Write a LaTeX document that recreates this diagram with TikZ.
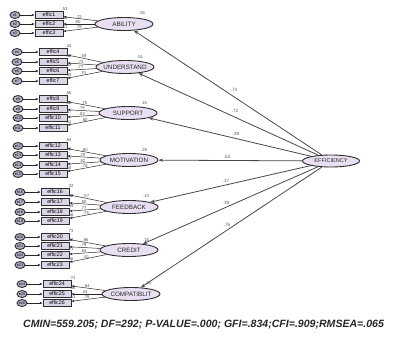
\documentclass[tikz,border=0pt]{standalone}
\usepackage{fontspec}
\setmainfont{Liberation Sans}
\usetikzlibrary{arrows.meta,shapes.geometric}
\definecolor{latfill}{HTML}{E8E0F2}
\definecolor{obsfill}{HTML}{DCD5E6}
\definecolor{errfill}{HTML}{B9B0C8}
\definecolor{edge}{HTML}{2E2E2E}
\begin{document}
\begin{tikzpicture}[x=1bp,y=-1bp,
  lat/.style={ellipse, draw=edge, line width=0.9pt, fill=latfill,
    minimum width=58bp, minimum height=13bp, inner sep=0pt},
  lattxt/.style={font=\fontsize{6.3}{6.3}\selectfont, inner sep=0pt, text=black!85},
  obs/.style={rectangle, draw=edge, line width=1pt, fill=obsfill,
    minimum width=28bp, minimum height=7bp, inner sep=0pt,
    font=\fontsize{5.3}{5.3}\selectfont},
  err/.style={ellipse, draw=edge, line width=0.9pt, fill=errfill,
    minimum width=10bp, minimum height=7bp, inner sep=0pt,
    font=\fontsize{3.8}{3.8}\selectfont},
  arr/.style={-{Stealth[length=3bp,width=2.4bp]}, draw=black!85, line width=0.5pt},
  sarr/.style={-{Stealth[length=4.5bp,width=3.2bp]}, draw=black!72, line width=0.8pt},
  lbl/.style={font=\fontsize{4.2}{4.2}\selectfont, text=black!70, inner sep=0.3bp},
  slbl/.style={font=\fontsize{4.6}{4.6}\selectfont, text=black!65, inner sep=0pt},
]
\useasboundingbox (0,0) rectangle (393,342);

% second-order factor
\node[lat, minimum width=57bp, minimum height=12bp] (eff) at (331,161) {};
\node[lattxt, font=\fontsize{5.6}{5.6}\selectfont] at (eff) {EFFICIENCY};

% first-order factors
\node[lat] (abil) at (124,24) {};  \node[lattxt] at (abil) {ABILITY};
\node[lat] (und)  at (125,67) {};  \node[lattxt] at (und)  {UNDERSTAND};
\node[lat] (sup)  at (128,113) {}; \node[lattxt] at (sup)  {SUPPORT};
\node[lat] (mot)  at (129,160) {}; \node[lattxt] at (mot)  {MOTIVATION};
\node[lat] (fb)   at (129,207) {}; \node[lattxt] at (fb)   {FEEDBACK};
\node[lat] (cred) at (129,250) {}; \node[lattxt] at (cred) {CREDIT};
\node[lat] (comp) at (131,294) {}; \node[lattxt] at (comp) {COMPATIBLIT};

% squared multiple correlations of the factors
\node[lbl] at (142,13)  {.55};
\node[lbl] at (140,57)  {.51};
\node[lbl] at (144,103) {.15};
\node[lbl] at (144,150) {.29};
\node[lbl] at (146,196) {.13};
\node[lbl] at (146,240) {.15};
\node[lbl] at (148,283) {.15};

% structural paths
\draw[sarr] (eff) -- (abil);
\draw[sarr] (eff) -- (und);
\draw[sarr] (eff) -- (sup);
\draw[sarr] (eff) -- (mot);
\draw[sarr] (eff) -- (fb);
\draw[sarr] (eff) -- (cred);
\draw[sarr] (eff) -- (comp);
\node[slbl] at (234,90)  {.74};
\node[slbl] at (235,111) {.72};
\node[slbl] at (236,134) {.39};
\node[slbl] at (227,157) {.53};
\node[slbl] at (226,181) {.37};
\node[slbl] at (226,203) {.39};
\node[slbl] at (227,225) {.76};

% indicators: index / y / box x / error x / loading / R2 / factor
\foreach \i/\y/\bx/\ex/\ld/\rr/\f in {
  1/15/49/15/.72/.53/abil, 2/24/49/15/.80/.64/abil, 3/33/49/15/.78/.61/abil,
  4/52/53/17/.58/.34/und, 5/62/53/17/.73/.53/und, 6/71/53/17/.77/.59/und, 7/81/53/17/.70/.49/und,
  8/99/53/18/.75/.56/sup, 9/109/53/18/.79/.62/sup, 10/118/53/18/.82/.67/sup, 11/128/53/18/.80/.64/sup,
  12/146/53/18/.80/.64/mot, 13/155/53/18/.79/.62/mot, 14/165/53/18/.82/.67/mot, 15/174/53/18/.76/.58/mot,
  16/192/55/20/.57/.32/fb, 17/202/55/20/.80/.64/fb, 18/212/55/20/.77/.59/fb, 19/221/55/20/.75/.56/fb,
  20/237/55/20/.86/.73/cred, 21/246/55/20/.79/.62/cred, 22/255/55/20/.84/.71/cred, 23/265/55/20/.81/.66/cred,
  24/284/57/22/.84/.71/comp, 25/294/57/22/.81/.66/comp, 26/303/57/22/.78/.61/comp}{
  \node[obs] (x\i) at (\bx,\y) {effic\i};
  \node[err] (e\i) at (\ex,\y) {e\i};
  \draw[arr] (e\i) -- (x\i);
  \draw[arr] (\f) -- node[lbl, pos=0.55, above] {\ld} (x\i);
  \node[lbl, anchor=south] at ([xshift=1bp]x\i.north east) {\rr};
}

% fit indices
\node[anchor=west, inner sep=0pt, font=\fontsize{10.6}{10.6}\selectfont\bfseries\itshape, text=black!85]
  (fit) at (23,325) {CMIN=559.205; DF=292; P-VALUE=.000; GFI=.834;CFI=.909;RMSEA=.065};
\end{tikzpicture}
\end{document}
